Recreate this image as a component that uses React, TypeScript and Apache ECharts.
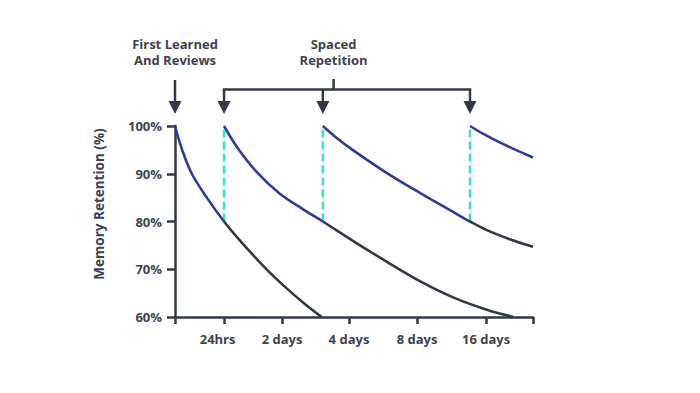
import React, { useEffect, useRef } from "react";
import * as echarts from "echarts";

// x values are in arbitrary time units (0..100) along the axis
const xTickPositions = [0, 13.7, 29.9, 48.6, 67.6, 86.9, 100];
const xLabelPositions = [11.9, 29.9, 48.6, 67.6, 86.9];
const xTickLabels = ["24hrs", "2 days", "4 days", "8 days", "16 days"];
const yTicks = [60, 70, 80, 90, 100];
const yAxisTitle = "Memory Retention (%)";

const reviewPoints = [0, 13.7, 41.3, 82.4]; // first learned + reviews
const bracketStem = 44.3;

// retention curves: [x, retention %]; blue until the next review, dark afterwards
const curve1 = [[0, 100], [2, 95], [4.7, 90], [8.9, 85], [13.7, 80], [17.8, 76.3], [21.9, 72.9], [26.5, 69.3], [31.2, 66.0], [36, 62.9], [41, 60]];
const curve2 = [[13.7, 100], [17.5, 95.4], [22.8, 90.4], [29.3, 85.8], [35.5, 82.7], [41.3, 80], [49.8, 75.9], [59.1, 71.6], [68.4, 67.5], [77.7, 64.1], [87.1, 61.5], [94.5, 60]];
const curve3 = [[41.3, 100], [45, 97.6], [49.8, 94.9], [59.1, 90.2], [68.4, 86.0], [77.7, 82.0], [82.4, 80], [87.1, 78.2], [93.5, 76.3], [100, 74.7]];
const curve4 = [[82.4, 100], [86, 98.4], [91.7, 96.2], [100, 93.4]];
const curveSwitch = [13.7, 41.3, 82.4];

const reviewJumps = [
  [[13.7, 80], [13.7, 100]],
  [[41.3, 80], [41.3, 100]],
  [[82.4, 80], [82.4, 100]],
];

const BLUE = "#2d3c94";
const DARK = "#323846";
const CYAN = "#34e3c6";
const TEXT = "#3d4350";
const FONT = "'Open Sans', sans-serif";

export default function App() {
  const ref = useRef<HTMLDivElement>(null);
  useEffect(() => {
    if (!ref.current) return;
    const chart = echarts.init(ref.current, null, { renderer: "svg" });
    const decaying = [curve1, curve2, curve3];
    chart.setOption({
      animation: false,
      grid: { left: 175, right: 167, top: 126, bottom: 76 },
      visualMap: decaying.map((_, i) => ({
        type: "piecewise",
        show: false,
        dimension: 0,
        seriesIndex: i,
        pieces: [
          { min: -1, max: curveSwitch[i], color: BLUE },
          { min: curveSwitch[i], max: 101, color: DARK },
        ],
      })),
      xAxis: {
        type: "value",
        min: 0,
        max: 100,
        axisLine: { show: true, lineStyle: { color: DARK, width: 2.5 } },
        axisTick: { show: true, customValues: xTickPositions, length: 7, lineStyle: { color: DARK, width: 2.5 } },
        axisLabel: {
          customValues: xLabelPositions,
          formatter: (v: number) => {
            const i = xLabelPositions.findIndex((p) => Math.abs(p - v) < 0.01);
            return i >= 0 ? xTickLabels[i] : "";
          },
          margin: 15,
          color: TEXT,
          fontFamily: FONT,
          fontWeight: 700,
          fontSize: 13,
        },
        splitLine: { show: false },
      },
      yAxis: {
        type: "value",
        min: 60,
        max: 100,
        interval: 10,
        axisLine: { show: true, lineStyle: { color: DARK, width: 2.5 } },
        axisTick: { show: true, length: 8, lineStyle: { color: DARK, width: 2.5 } },
        axisLabel: {
          formatter: (v: number) => (yTicks.includes(v) ? v + "%" : ""),
          margin: 13,
          color: TEXT,
          fontFamily: FONT,
          fontWeight: 700,
          fontSize: 13,
        },
        splitLine: { show: false },
      },
      series: [
        ...decaying.map((data) => ({
          type: "line",
          data,
          smooth: 0.35,
          symbol: "none",
          lineStyle: { width: 2.6 },
          z: 3,
        })),
        {
          type: "line",
          data: curve4,
          smooth: 0.35,
          symbol: "none",
          lineStyle: { width: 2.6, color: BLUE },
          z: 3,
        },
        ...reviewJumps.map((d) => ({
          type: "line",
          data: d,
          symbol: "none",
          lineStyle: { color: CYAN, width: 2.5, type: [8, 4] },
          z: 2,
        })),
      ],
    });

    const px = (v: number) => chart.convertToPixel({ gridIndex: 0 }, [v, 100])[0];
    const xs = reviewPoints.map(px);
    const stemX = px(bracketStem);
    const lineStyle = { stroke: DARK, lineWidth: 2.5 };
    const arrow = (x: number, y1: number) => [
      { type: "line", shape: { x1: x, y1, x2: x, y2: 104 }, style: lineStyle },
      { type: "polygon", shape: { points: [[x - 6.5, 101], [x + 6.5, 101], [x, 114]] }, style: { fill: DARK } },
    ];
    const label = (x: number, y: number, text: string, size = 13, rotation = 0) => ({
      type: "text",
      x,
      y,
      rotation,
      style: {
        text,
        fill: TEXT,
        font: `700 ${size}px ${FONT}`,
        textAlign: "center",
        textVerticalAlign: "middle",
      },
    });
    chart.setOption({
      graphic: [
        ...arrow(xs[0], 80),
        ...arrow(xs[1], 89),
        ...arrow(xs[2], 89),
        ...arrow(xs[3], 89),
        { type: "line", shape: { x1: xs[1] - 1.25, y1: 89.5, x2: xs[3] + 1.25, y2: 89.5 }, style: lineStyle },
        { type: "line", shape: { x1: stemX, y1: 79, x2: stemX, y2: 89.5 }, style: lineStyle },
        label(xs[0], 43.5, "First Learned"),
        label(xs[0], 60, "And Reviews"),
        label(stemX, 43.5, "Spaced"),
        label(stemX, 60, "Repetition"),
        label(99, 204, yAxisTitle, 13.5, Math.PI / 2),
      ],
    });
    return () => chart.dispose();
  }, []);
  return <div ref={ref} style={{ position: "fixed", left: 0, top: 0, width: 700, height: 393, background: "#fff" }} />;
}
